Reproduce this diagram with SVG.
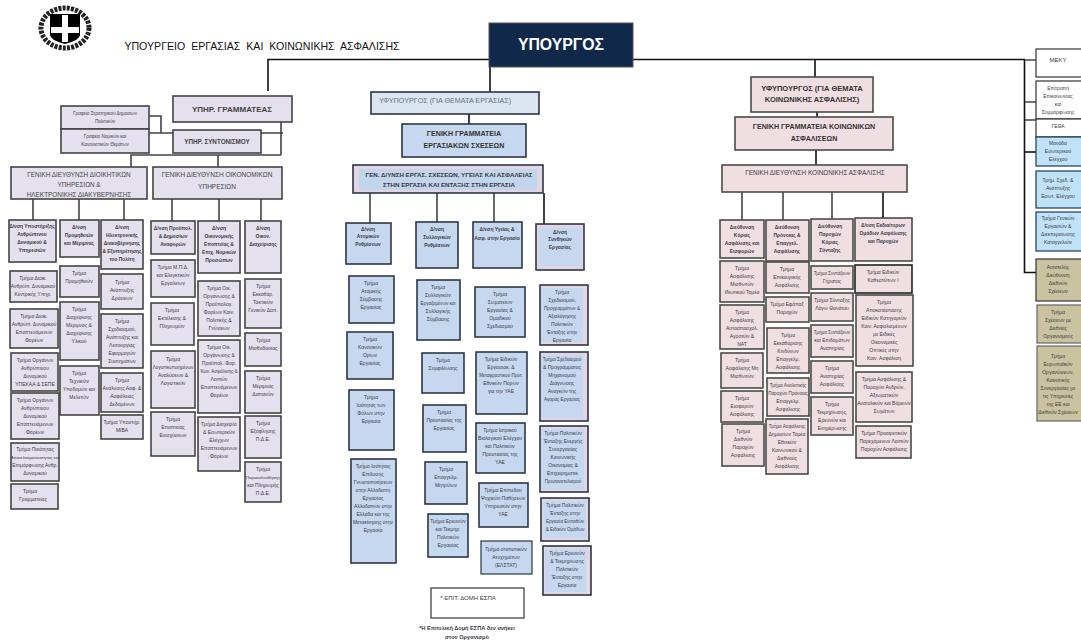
<svg xmlns="http://www.w3.org/2000/svg" width="1081" height="642" viewBox="0 0 1081 642">
<style>
text{font-family:"Liberation Sans","Noto Sans",sans-serif;text-anchor:middle;fill:#3a3a44}
.l rect{fill:#e5e0ee;stroke:#444;stroke-width:1.6}
.b rect{fill:#c5d8f0;stroke:#2c3644;stroke-width:1.6}
.p rect{fill:#f0dfe2;stroke:#4a4a4a;stroke-width:1.6}
.w rect{fill:#fff;stroke:#333;stroke-width:1.2}
.c rect{fill:#bfe2f8;stroke:#1f3850;stroke-width:1.2}
.k rect{fill:#c9c3a1;stroke:#333;stroke-width:1.2}
.s text{font-size:5px}
.d text{font-size:4.9px;font-weight:bold}
.m text{font-size:7.6px;fill:#444}
.t text{font-size:5px}
#conn path{fill:none;stroke:#444;stroke-width:1.6}
#conn path.k{stroke:#111}
</style>
<g id="logo"><ellipse cx="65" cy="28" rx="24" ry="20" fill="none" stroke="#222" stroke-width="5" stroke-dasharray="3 1.2"/><path d="M50 14H80V35Q80 40 65 44Q50 40 50 35Z" fill="#000"/><path d="M62 15H68V27H79V33H68V42H62V33H51V27H62Z" fill="#fff"/></g>
<text id="title" x="262" y="50" style="font-size:10.6px;word-spacing:3px;fill:#111">ΥΠΟΥΡΓΕΙΟ ΕΡΓΑΣΙΑΣ ΚΑΙ ΚΟΙΝΩΝΙΚΗΣ ΑΣΦΑΛΙΣΗΣ</text>
<g id="conn">
<path class="k" d="M268 91V59.5H1025M490 67V92M815 59.5V77"/>
<path class="k" d="M1024.5 60V272.5H1036"/>
<path d="M1025 60H1036M1025 102H1036M1025 120H1036"/><path class="k" d="M1025 152H1036"/>
<path d="M281 122V155M131 167V155H281M218 155V167M149 116H161V133M149 133H173M261 133H283"/>
<path d="M33 199V220M79 199V220M124 199V220M172 199V221M219 199V221M261 199V221"/>
<path class="k" d="M469 114V124"/>
<path d="M370 193V223M437 193V222M494 193V222"/><path class="k" d="M544 193V224"/>
<path class="k" d="M817 112V117M816 150V165"/>
<path d="M742 192V220M783 192V220M832 192V219"/><path class="k" d="M883 192V218"/>
</g>

<g id="minister"><rect x="489" y="23" width="144" height="44" fill="#10294a" stroke="#555"/><text x="561" y="50" style="font-size:15.8px;font-weight:bold;fill:#fff">ΥΠΟΥΡΓΟΣ</text></g>

<g class="l m">
<g id="n-yg"><rect x="173" y="96" width="119" height="26"/><text x="232" y="112" style="font-size:8px;font-weight:bold">ΥΠΗΡ. ΓΡΑΜΜΑΤΕΑΣ</text></g>
<g id="n-syn"><rect x="173" y="130" width="88" height="23"/><text x="217" y="144" style="font-size:6.3px;font-weight:bold">ΥΠΗΡ. ΣΥΝΤΟΝΙΣΜΟΥ</text></g>
<g id="n-gdl"><rect x="11" y="167" width="136" height="32"/><text x="79" y="176.5" style="font-size:6.4px">ΓΕΝΙΚΗ ΔΙΕΥΘΥΝΣΗ ΔΙΟΙΚΗΤΙΚΩΝ</text><text x="79" y="186.5" style="font-size:6.4px">ΥΠΗΡΕΣΙΩΝ  &amp;</text><text x="79" y="196.5" style="font-size:6.4px">ΗΛΕΚΤΡΟΝΙΚΗΣ ΔΙΑΚΥΒΕΡΝΗΣΗΣ</text></g>
<g id="n-gdr"><rect x="153" y="167" width="129" height="32"/><text x="217" y="176.5" style="font-size:6.5px">ΓΕΝΙΚΗ ΔΙΕΥΘΥΝΣΗ ΟΙΚΟΝΟΜΙΚΩΝ</text><text x="217" y="188.5" style="font-size:6.5px">ΥΠΗΡΕΣΙΩΝ</text></g>
</g>

<g class="l s">
<g id="n-a1"><rect x="61" y="106" width="88" height="23"/><text x="105" y="115" style="font-size:4.6px">Γραφείο Στρατηγικού Δημοσίων</text><text x="105" y="123" style="font-size:4.6px">Πολιτικών</text></g>
<g id="n-a2"><rect x="61" y="129" width="88" height="24"/><text x="105" y="138" style="font-size:4.6px">Γραφείο Νομικών και</text><text x="105" y="146" style="font-size:4.6px">Κανονιστικών Θεμάτων</text></g>
</g>

<g class="l d">
<g id="d1"><rect x="9" y="220" width="47" height="42"/><text x="32" y="228">Δ/νση Υποστήριξης</text><text x="32" y="236">Ανθρώπινου</text><text x="32" y="244">Δυναμικού &amp;</text><text x="32" y="252">Υπηρεσιών</text></g>
<g id="d2"><rect x="60" y="220" width="39" height="37"/><text x="79" y="229">Δ/νση</text><text x="79" y="237">Προμηθειών</text><text x="79" y="245">και Μέριμνας</text></g>
<g id="d3"><rect x="101" y="220" width="42" height="49"/><text x="122" y="229">Δ/νση</text><text x="122" y="237">Ηλεκτρονικής</text><text x="122" y="245">Διακυβέρνησης</text><text x="122" y="253">&amp; Εξυπηρέτησης</text><text x="122" y="261">του Πολίτη</text></g>
<g id="d4"><rect x="151" y="221" width="44" height="33"/><text x="173" y="230">Δ/νση Προϋπολ.</text><text x="173" y="238">&amp; Δημοσίων</text><text x="173" y="246">Αναφορών</text></g>
<g id="d5"><rect x="198" y="221" width="42" height="52"/><text x="219" y="230">Δ/νση</text><text x="219" y="238">Οικονομικής</text><text x="219" y="246">Εποπτείας &amp;</text><text x="219" y="254">Επιχ. Νομικών</text><text x="219" y="262">Προσώπων</text></g>
<g id="d6"><rect x="245" y="221" width="36" height="52"/><text x="263" y="230">Δ/νση</text><text x="263" y="238">Οικον.</text><text x="263" y="246">Διαχείρισης</text></g>
</g>

<g class="l t">
<g id="t1"><rect x="10" y="271" width="47" height="31"/><text x="33" y="280">Τμήμα Διοίκ.</text><text x="33" y="288">Ανθρώπ. Δυναμικού</text><text x="33" y="296">Κεντρικής Υπηρ.</text></g>
<g id="t2"><rect x="10" y="309" width="48" height="39"/><text x="34" y="318">Τμήμα Διοίκ.</text><text x="34" y="326">Ανθρώπ. Δυναμικού</text><text x="34" y="334">Εποπτευόμενων</text><text x="34" y="342">Φορέων</text></g>
<g id="t3"><rect x="11" y="353" width="47" height="38"/><text x="35" y="362">Τμήμα Οργάνων</text><text x="35" y="370">Ανθρώπινου</text><text x="35" y="378">Δυναμικού</text><text x="35" y="386">ΥΠΕΚΑΑ &amp; ΣΕΠΕ</text></g>
<g id="t4"><rect x="11" y="393" width="48" height="46"/><text x="35" y="402">Τμήμα Οργάνων</text><text x="35" y="410">Ανθρώπινου</text><text x="35" y="418">Δυναμικού</text><text x="35" y="426">Εποπτευόμενων</text><text x="35" y="434">Φορέων</text></g>
<g id="t5"><rect x="11" y="443" width="48" height="38"/><text x="35" y="451">Τμήμα Ποιότητας</text><text x="35" y="459" style="font-size:4.4px">Αποτελεσματικότητας και</text><text x="35" y="467">Επιμόρφωσης Ανθρ.</text><text x="35" y="475">Δυναμικού</text></g>
<g id="t6"><rect x="11" y="484" width="47" height="25"/><text x="30" y="493">Τμήμα</text><text x="33" y="501">Γραμματείας</text></g>
<g id="t7"><rect x="60" y="266" width="39" height="31"/><text x="79" y="275">Τμήμα</text><text x="79" y="283">Προμηθειών</text></g>
<g id="t8"><rect x="60" y="302" width="39" height="58"/><text x="79" y="311">Τμήμα</text><text x="79" y="319">Διαχείρισης</text><text x="79" y="327">Μέριμνας &amp;</text><text x="79" y="335">Διαχείρισης</text><text x="79" y="343">Υλικού</text></g>
<g id="t9"><rect x="60" y="366" width="39" height="49"/><text x="79" y="375">Τμήμα</text><text x="79" y="383">Τεχνικών</text><text x="79" y="391">Υποδομών και</text><text x="79" y="399">Μελετών</text></g>
<g id="t10"><rect x="101" y="274" width="42" height="35"/><text x="122" y="284">Τμήμα</text><text x="122" y="292">Ανάπτυξης</text><text x="122" y="300">Δράσεων</text></g>
<g id="t11"><rect x="101" y="314" width="42" height="54"/><text x="122" y="323">Τμήμα</text><text x="122" y="331">Σχεδιασμού,</text><text x="122" y="339">Ανάπτυξης και</text><text x="122" y="347">Λειτουργίας</text><text x="122" y="355">Εφαρμογών</text><text x="122" y="363">Συστημάτων</text></g>
<g id="t12"><rect x="101" y="373" width="42" height="39"/><text x="122" y="382">Τμήμα</text><text x="122" y="390">Ανάλυσης Ασφ. &amp;</text><text x="122" y="398">Ασφάλειας</text><text x="122" y="406">Δεδομένων</text></g>
<g id="t13"><rect x="101" y="415" width="42" height="24"/><text x="122" y="424">Τμήμα Υποστήρ.</text><text x="122" y="432">ΜΙΒΑ</text></g>
<g id="t14"><rect x="151" y="260" width="44" height="37"/><text x="173" y="269">Τμήμα Μ.Π.Δ.</text><text x="173" y="277">και Ελεγκτικών</text><text x="173" y="285">Εργαλείων</text></g>
<g id="t15"><rect x="151" y="303" width="43" height="42"/><text x="172" y="312">Τμήμα</text><text x="172" y="320">Εκτέλεσης &amp;</text><text x="172" y="328">Πληρωμών</text></g>
<g id="t16"><rect x="151" y="351" width="44" height="57"/><text x="173" y="361">Τμήμα</text><text x="173" y="369" style="font-size:4.5px">Λογιστικοποιημένων</text><text x="173" y="377">Αναλύσεων &amp;</text><text x="173" y="385">Λογιστικών</text></g>
<g id="t17"><rect x="151" y="412" width="44" height="44"/><text x="173" y="421">Τμήμα</text><text x="173" y="429">Εποπτείας</text><text x="173" y="437">Ενισχύσεων</text></g>
<g id="t18"><rect x="198" y="281" width="42" height="55"/><text x="219" y="290">Τμήμα Οικ.</text><text x="219" y="298">Οργάνωσης &amp;</text><text x="219" y="306">Προϋπολογ.</text><text x="219" y="314">Φορέων Κοιν.</text><text x="219" y="322">Πολιτικής &amp;</text><text x="219" y="330">Γνώσεων</text></g>
<g id="t19"><rect x="198" y="340" width="42" height="73"/><text x="219" y="349">Τμήμα Οικ.</text><text x="219" y="357">Οργάνωσης &amp;</text><text x="219" y="365">Προϋπολ. Φορ.</text><text x="219" y="373" style="font-size:4.5px">Κοιν. Ασφάλισης &amp;</text><text x="219" y="381">Λοιπών</text><text x="219" y="389">Εποπτευόμενων</text><text x="219" y="397">Φορέων</text></g>
<g id="t20"><rect x="198" y="417" width="42" height="54"/><text x="219" y="426">Τμήμα Διαχείρ/σ</text><text x="219" y="434">&amp; Εσωτερικών</text><text x="219" y="442">Ελέγχων</text><text x="219" y="450">Εποπτευόμενων</text><text x="219" y="458">Φορέων</text></g>
<g id="t21"><rect x="245" y="279" width="36" height="49"/><text x="263" y="288">Τμήμα</text><text x="263" y="296">Εκκαθάρ.</text><text x="263" y="304">Τακτικών</text><text x="263" y="312">Γενικών Δαπ.</text></g>
<g id="t22"><rect x="245" y="333" width="36" height="33"/><text x="263" y="342">Τμήμα</text><text x="263" y="350">Μισθοδοσίας</text></g>
<g id="t23"><rect x="245" y="371" width="36" height="42"/><text x="263" y="380">Τμήμα</text><text x="263" y="388">Μέριμνας</text><text x="263" y="396">Δαπανών</text></g>
<g id="t24"><rect x="245" y="416" width="36" height="42"/><text x="263" y="425">Τμήμα</text><text x="263" y="433">Εξόφλησης</text><text x="263" y="441">Π.Δ.Ε.</text></g>
<g id="t25"><rect x="245" y="462" width="36" height="40"/><text x="263" y="471">Τμήμα</text><text x="263" y="479" style="font-size:4.4px">Παρακολούθησης</text><text x="263" y="487">και Πληρωμής</text><text x="263" y="495">Π.Δ.Ε.</text></g>
</g>

<g class="b">
<g id="c-yf"><rect x="371" y="92" width="168" height="22" style="fill:#dae5f1"/><text x="445" y="103" style="font-size:7.2px;fill:#667080">ΥΦΥΠΟΥΡΓΟΣ (ΓΙΑ ΘΕΜΑΤΑ ΕΡΓΑΣΙΑΣ)</text></g>
<g id="c-gg"><rect x="402" y="124" width="124" height="33"/><text x="464" y="136" style="font-size:7.1px;font-weight:bold;fill:#333">ΓΕΝΙΚΗ ΓΡΑΜΜΑΤΕΙΑ</text><text x="464" y="148" style="font-size:7.1px;font-weight:bold;fill:#333">ΕΡΓΑΣΙΑΚΩΝ ΣΧΕΣΕΩΝ</text></g>
<g id="c-gd"><rect x="353" y="165" width="190" height="28" style="fill:#e3d5e4"/><rect x="359" y="169" width="178" height="21" style="stroke:none;fill:#c1d5ec"/><text x="449" y="177" style="font-size:6.2px;font-weight:bold">ΓΕΝ. Δ/ΥΝΣΗ ΕΡΓΑΣ. ΣΧΕΣΕΩΝ, ΥΓΕΙΑΣ ΚΑΙ ΑΣΦΑΛΕΙΑΣ</text><text x="449" y="187" style="font-size:6.2px;font-weight:bold">ΣΤΗΝ ΕΡΓΑΣΙΑ ΚΑΙ ΕΝΤΑΞΗΣ ΣΤΗΝ ΕΡΓΑΣΙΑ</text></g>
<g class="d">
<g id="cd1"><rect x="346" y="223" width="45" height="41"/><text x="368" y="231">Δ/νση</text><text x="368" y="238">Ατομικών</text><text x="368" y="246">Ρυθμίσεων</text></g>
<g id="cd2"><rect x="416" y="222" width="42" height="46"/><text x="437" y="231">Δ/νση</text><text x="437" y="239">Συλλογικών</text><text x="437" y="247">Ρυθμίσεων</text></g>
<g id="cd3"><rect x="473" y="222" width="49" height="46"/><text x="497" y="231">Δ/νση Υγείας &amp;</text><text x="497" y="240">Ασφ. στην Εργασία</text></g>
<g id="cd4"><rect x="536" y="224" width="48" height="46" style="fill:#e3d5e4"/><rect x="539" y="228" width="42" height="38" style="stroke:none"/><text x="560" y="234">Δ/νση</text><text x="560" y="241">Συνθηκών</text><text x="560" y="249">Εργασίας</text></g>
</g>
<g class="t">
<g id="ct1"><rect x="349" y="276" width="45" height="47"/><text x="371" y="285">Τμήμα</text><text x="371" y="293">Ατομικής</text><text x="371" y="301">Σύμβασης</text><text x="371" y="309">Εργασίας</text></g>
<g id="ct2"><rect x="347" y="332" width="46" height="47"/><text x="370" y="341">Τμήμα</text><text x="370" y="349">Κανονικών</text><text x="370" y="357">Ορίων</text><text x="370" y="365">Εργασίας</text></g>
<g id="ct3"><rect x="349" y="390" width="45" height="60"/><text x="371" y="399">Τμήμα</text><text x="371" y="407">Ισότητας των</text><text x="371" y="415">Φύλων στην</text><text x="371" y="423">Εργασία</text></g>
<g id="ct4"><rect x="351" y="459" width="45" height="104"/><text x="373" y="468">Τμήμα Ισότητας</text><text x="373" y="476">Επίλυσης</text><text x="373" y="484">Γνωστοποιήσεων</text><text x="373" y="492">στην Αλλοδαπή</text><text x="373" y="500">Εργασίας</text><text x="373" y="508">Αλλοδαπών στην</text><text x="373" y="516">Ελλάδα και της</text><text x="373" y="524">Μετακίνησης στην</text><text x="373" y="532">Εργασία</text></g>
<g id="ct5"><rect x="417" y="280" width="43" height="60"/><text x="438" y="289">Τμήμα</text><text x="438" y="297">Συλλογικών</text><text x="438" y="305" style="font-size:4.6px">Εργαζομένων και</text><text x="438" y="313">Συλλογικής</text><text x="438" y="321">Σύμβασης</text></g>
<g id="ct6"><rect x="422" y="353" width="42" height="40"/><text x="443" y="362">Τμήμα</text><text x="443" y="370">Συμφιλίωσης</text></g>
<g id="ct7"><rect x="423" y="405" width="43" height="47"/><text x="444" y="414">Τμήμα</text><text x="444" y="422">Προστασίας της</text><text x="444" y="430">Εργασίας</text></g>
<g id="ct8"><rect x="425" y="462" width="42" height="42"/><text x="446" y="471">Τμήμα</text><text x="446" y="479">Επαγγελμ.</text><text x="446" y="487">Μητρώων</text></g>
<g id="ct9"><rect x="428" y="514" width="40" height="43"/><text x="448" y="523">Τμήμα Ερευνών</text><text x="448" y="531">και Τεκμηρ.</text><text x="448" y="539">Πολιτικών</text><text x="448" y="547">Εργασίας</text></g>
<g id="ct10"><rect x="475" y="287" width="50" height="50"/><text x="500" y="296">Τμήμα</text><text x="500" y="304">Σωματείων</text><text x="500" y="312">Εργασίας &amp;</text><text x="500" y="320">Ομαδικού</text><text x="500" y="328">Σχεδιασμού</text></g>
<g id="ct11"><rect x="476" y="352" width="51" height="62"/><text x="501" y="361">Τμήμα Ειδικών</text><text x="501" y="369">Εργασιακ. &amp;</text><text x="501" y="377" style="font-size:4.5px">Μεταφραστικού Προτ.</text><text x="501" y="385">Εθνικών Πόρων</text><text x="501" y="393">για την ΥΑΕ</text></g>
<g id="ct12"><rect x="476" y="423" width="49" height="50"/><text x="500" y="432">Τμήμα Ιατρικού</text><text x="500" y="440">Βιολογικού Ελέγχου</text><text x="500" y="448">και Πολιτικών</text><text x="500" y="456">Προστασίας της</text><text x="500" y="464">ΥΑΕ</text></g>
<g id="ct13"><rect x="479" y="483" width="49" height="44"/><text x="503" y="492">Τμήμα Επίπεδου</text><text x="503" y="500">Ψυχικών Παθήσεων</text><text x="503" y="508">Υπηρεσιών στην</text><text x="503" y="516">ΥΑΕ</text></g>
<g id="ct14"><rect x="481" y="541" width="51" height="33" style="stroke-width:1.2"/><text x="506" y="551">Τμήμα στατιστικών</text><text x="506" y="559">Ατυχημάτων</text><text x="506" y="567">(ΕΛΣΤΑΤ)</text></g>
<g id="ct15"><rect x="540" y="285" width="48" height="60" style="fill:#e3d5e4"/><rect x="541" y="288" width="42" height="54" style="stroke:none"/><text x="562" y="294">Τμήμα</text><text x="562" y="302">Σχεδιασμού,</text><text x="562" y="310" style="font-size:4.6px">Προγραμμάτων &amp;</text><text x="562" y="318">Αξιολόγησης</text><text x="562" y="326">Πολιτικών</text><text x="562" y="334">Ένταξης στην</text><text x="562" y="342">Εργασία</text></g>
<g id="ct16"><rect x="540" y="352" width="48" height="69" style="fill:#e3d5e4"/><rect x="541" y="355" width="42" height="63" style="stroke:none"/><text x="562" y="361" style="font-size:4.6px">Τμήμα Σχεδιασμού</text><text x="562" y="369">&amp; Προγράμματος</text><text x="562" y="377">Μηχανισμού</text><text x="562" y="385">Διάγνωσης</text><text x="562" y="393">Αναγκών της</text><text x="562" y="401" style="font-size:4.6px">Αγοράς Εργασίας</text></g>
<g id="ct17"><rect x="540" y="426" width="48" height="66" style="fill:#e3d5e4"/><rect x="541" y="429" width="43" height="60" style="stroke:none"/><text x="563" y="435">Τμήμα Πολιτικών</text><text x="563" y="443">Ένταξης Ενεργής</text><text x="563" y="451">Συνεργασίας</text><text x="563" y="459">Κοινωνικής</text><text x="563" y="467">Οικονομίας &amp;</text><text x="563" y="475">Επιχειρηματικ.</text><text x="563" y="483" style="font-size:4.5px">Προσανατολισμού</text></g>
<g id="ct18"><rect x="541" y="498" width="48" height="43" style="fill:#e3d5e4"/><rect x="543" y="501" width="43" height="37" style="stroke:none"/><text x="565" y="507">Τμήμα Πολιτικών</text><text x="565" y="515">Ένταξης στην</text><text x="565" y="523" style="font-size:4.6px">Εργασία Ευπαθών</text><text x="565" y="531" style="font-size:4.6px">&amp; Ειδικών Ομάδων</text></g>
<g id="ct19"><rect x="543" y="546" width="48" height="49" style="fill:#e3d5e4"/><rect x="545" y="549" width="41" height="43" style="stroke:none"/><text x="567" y="555">Τμήμα Ερευνών</text><text x="567" y="563">&amp; Τεκμηρίωσης</text><text x="567" y="571">Πολιτικών</text><text x="567" y="579">Ένταξης στην</text><text x="567" y="587">Εργασία</text></g>
</g>
</g>

<g class="w">
<g id="espa"><rect x="431" y="588" width="93" height="30"/><text x="468" y="600" style="font-size:6px">* ΕΠΙΤ. ΔΟΜΗ ΕΣΠΑ</text></g>
</g>
<g id="note"><text x="467" y="630" style="font-size:5.6px;font-weight:bold">*Η Επιτελική Δομή ΕΣΠΑ δεν ανήκει</text><text x="467" y="639" style="font-size:5.6px;font-weight:bold">στον Οργανισμό</text></g>

<g class="p">
<g id="r-yf"><rect x="751" y="77" width="122" height="35"/><text x="812" y="91" style="font-size:7.5px;font-weight:bold;fill:#333">ΥΦΥΠΟΥΡΓΟΣ (ΓΙΑ ΘΕΜΑΤΑ</text><text x="812" y="102" style="font-size:7.5px;font-weight:bold;fill:#333">ΚΟΙΝΩΝΙΚΗΣ ΑΣΦΑΛΙΣΗΣ)</text></g>
<g id="r-gg"><rect x="735" y="117" width="158" height="33"/><text x="814" y="129" style="font-size:7.1px;font-weight:bold;fill:#333">ΓΕΝΙΚΗ ΓΡΑΜΜΑΤΕΙΑ ΚΟΙΝΩΝΙΚΩΝ</text><text x="814" y="141" style="font-size:7.1px;font-weight:bold;fill:#333">ΑΣΦΑΛΙΣΕΩΝ</text></g>
<g id="r-gd"><rect x="722" y="165" width="185" height="27"/><text x="815" y="175" style="font-size:6.4px">ΓΕΝΙΚΗ ΔΙΕΥΘΥΝΣΗ ΚΟΙΝΩΝΙΚΗΣ ΑΣΦΑΛΙΣΗΣ</text></g>
<g class="d">
<g id="rd1"><rect x="720" y="220" width="44" height="38"/><text x="742" y="229">Διεύθυνση</text><text x="742" y="237">Κύριας</text><text x="742" y="245">Ασφάλισης και</text><text x="742" y="253">Εισφορών</text></g>
<g id="rd2"><rect x="766" y="220" width="43" height="41"/><text x="787" y="229">Διεύθυνση</text><text x="787" y="237">Πρόνοιας &amp;</text><text x="787" y="245">Επαγγελ.</text><text x="787" y="253">Ασφάλισης</text></g>
<g id="rd3"><rect x="811" y="219" width="42" height="42"/><text x="830" y="228">Διεύθυνση</text><text x="830" y="236">Παροχών</text><text x="830" y="244">Κύριας</text><text x="830" y="252">Σύνταξης</text></g>
<g id="rd4"><rect x="855" y="218" width="57" height="43"/><text x="883" y="227">Δ/νση Εκδιαίτερων</text><text x="883" y="235">Ομάδων Ασφάλισης</text><text x="883" y="243">και Παροχών</text></g>
</g>
<g class="t">
<g id="rt1"><rect x="720" y="261" width="44" height="41"/><text x="742" y="270">Τμήμα</text><text x="742" y="278">Ασφάλισης</text><text x="742" y="286">Μισθωτών</text><text x="742" y="294">Ιδιωτικού Τομέα</text></g>
<g id="rt2"><rect x="720" y="305" width="44" height="44"/><text x="742" y="314">Τμήμα</text><text x="742" y="322">Ασφάλισης</text><text x="742" y="330">Αυτοαπασχολ.</text><text x="742" y="338">Αγροτών &amp;</text><text x="742" y="346">ΝΑΤ</text></g>
<g id="rt3"><rect x="721" y="353" width="42" height="35"/><text x="742" y="362">Τμήμα</text><text x="742" y="370">Ασφάλισης Μη</text><text x="742" y="378">Μισθωτών</text></g>
<g id="rt4"><rect x="721" y="391" width="42" height="31"/><text x="742" y="400">Τμήμα</text><text x="742" y="408">Εισφορών</text><text x="742" y="416">Ασφάλισης</text></g>
<g id="rt5"><rect x="722" y="424" width="42" height="42"/><text x="743" y="433">Τμήμα</text><text x="743" y="441">Διεθνών</text><text x="743" y="449">Παροχών</text><text x="743" y="457">Ασφάλισης</text></g>
<g id="rt6"><rect x="766" y="262" width="43" height="31"/><text x="787" y="271">Τμήμα</text><text x="787" y="279">Επικουρικής</text><text x="787" y="287">Ασφάλισης</text></g>
<g id="rt7"><rect x="766" y="297" width="43" height="25"/><text x="787" y="306">Τμήμα Εφάπαξ</text><text x="787" y="314">Παροχών</text></g>
<g id="rt8"><rect x="767" y="328" width="42" height="45"/><text x="788" y="337">Τμήμα</text><text x="788" y="345">Εκκαθάρισης</text><text x="788" y="353">Κινδύνων</text><text x="788" y="361">Επαγγελμ.</text><text x="788" y="369">Ασφάλισης</text></g>
<g id="rt9"><rect x="767" y="378" width="42" height="38"/><text x="788" y="387" style="font-size:4.6px">Τμήμα Αναλυτικής</text><text x="788" y="395" style="font-size:4.6px">Παροχών Πρόνοιας</text><text x="788" y="403">Επαγγελμ.</text><text x="788" y="411">Ασφάλισης</text></g>
<g id="rt10"><rect x="766" y="419" width="42" height="55"/><text x="787" y="428" style="font-size:4.6px">Τμήμα Ασφάλισης</text><text x="787" y="436">Δημοσίων Τομέα</text><text x="787" y="444">Εθνικών</text><text x="787" y="452">Κοινωνικού &amp;</text><text x="787" y="460">Διεθνούς</text><text x="787" y="468">Ασφάλισης</text></g>
<g id="rt11"><rect x="811" y="266" width="42" height="23"/><text x="832" y="275" style="font-size:4.6px">Τμήμα Συντάξεων</text><text x="832" y="283">Γήρατος</text></g>
<g id="rt12"><rect x="811" y="293" width="42" height="28"/><text x="832" y="302">Τμήμα Σύνταξης</text><text x="832" y="310">Λόγω Θανάτου</text></g>
<g id="rt13"><rect x="811" y="325" width="42" height="32"/><text x="832" y="334" style="font-size:4.6px">Τμήμα Συντάξεων</text><text x="832" y="342">και Επιδομάτων</text><text x="832" y="350">Αναπηρίας</text></g>
<g id="rt14"><rect x="811" y="361" width="42" height="32"/><text x="832" y="370">Τμήμα</text><text x="832" y="378">Αναπηρίας</text><text x="832" y="386">Ασφάλισης</text></g>
<g id="rt15"><rect x="811" y="397" width="42" height="38"/><text x="832" y="406">Τμήμα</text><text x="832" y="414">Τεκμηρίωσης,</text><text x="832" y="422">Ερευνών και</text><text x="832" y="430">Ενημέρωσης</text></g>
<g id="rt16"><rect x="855" y="265" width="57" height="28" style="stroke:#222"/><text x="883" y="274">Τμήμα Ειδικών</text><text x="883" y="282">Καθεστώτων Ι</text></g>
<g id="rt17"><rect x="856" y="295" width="57" height="71"/><text x="884" y="304">Τμήμα</text><text x="884" y="312">Αποκατάστασης</text><text x="884" y="320">Ειδικών Κατηγοριών</text><text x="884" y="328">Κοιν. Ασφαλισμένων</text><text x="884" y="336">με Ειδικές</text><text x="884" y="344">Οικονομικές</text><text x="884" y="352">Οπτικές στην</text><text x="884" y="360">Κοιν. Ασφάλιση</text></g>
<g id="rt18"><rect x="856" y="372" width="56" height="50"/><text x="884" y="381">Τμήμα Ασφάλισης &amp;</text><text x="884" y="389">Παροχών Ανδρών,</text><text x="884" y="397">Αξιωματικών</text><text x="884" y="405">Ανατολικών και Βόρειων</text><text x="884" y="413">Σωμάτων</text></g>
<g id="rt19"><rect x="856" y="426" width="55" height="32"/><text x="884" y="435">Τμήμα Προαιρετικών</text><text x="884" y="443">Παρεχόμενων Λοιπών</text><text x="884" y="451">Παροχών Ασφάλισης</text></g>
</g>
</g>

<g class="w s">
<g id="x1"><rect x="1036" y="49" width="46" height="28"/><text x="1058" y="62" style="font-size:6px">ΜΕΚΥ</text></g>
<g id="x2"><rect x="1036" y="81" width="46" height="38"/><text x="1058" y="90">Επιτροπή</text><text x="1058" y="98">Επικοινωνίας</text><text x="1058" y="106">και</text><text x="1058" y="114">Συμμόρφωσης</text></g>
<g id="x3"><rect x="1036" y="119" width="46" height="18"/><text x="1058" y="128">ΓΕΘΑ</text></g>
</g>
<g class="c s">
<g id="x4"><rect x="1036" y="137" width="46" height="29"/><text x="1058" y="145">Μονάδα</text><text x="1058" y="153">Εσωτερικού</text><text x="1058" y="161">Ελέγχου</text></g>
<g id="x5"><rect x="1036" y="171" width="46" height="37"/><text x="1058" y="182">Τμήμ. Σχεδ. &amp;</text><text x="1058" y="190">Ανάπτυξης</text><text x="1058" y="198">Εσωτ. Ελέγχου</text></g>
<g id="x6"><rect x="1036" y="212" width="46" height="39"/><text x="1058" y="220">Τμήμα Γενικών</text><text x="1058" y="228">Εργασιών &amp;</text><text x="1058" y="236">Διεκπεραίωσης</text><text x="1058" y="244">Καταγγελιών</text></g>
</g>
<g class="k s">
<g id="x7"><rect x="1036" y="259" width="46" height="42"/><text x="1058" y="269">Αυτοτελής</text><text x="1058" y="277">Διεύθυνση</text><text x="1058" y="285">Διεθνών</text><text x="1058" y="293">Σχέσεων</text></g>
<g id="x8"><rect x="1037" y="305" width="45" height="38" style="stroke:#666"/><text x="1058" y="314">Τμήμα</text><text x="1058" y="322">Σχέσεων με</text><text x="1058" y="330">Διεθνείς</text><text x="1058" y="338">Οργανισμούς</text></g>
<g id="x9"><rect x="1037" y="346" width="45" height="75" style="stroke:#666"/><text x="1058" y="358">Τμήμα</text><text x="1058" y="366">Ευρωπαϊκών</text><text x="1058" y="374">Οργανώσεων,</text><text x="1058" y="382">Κοινοτικής</text><text x="1058" y="390">Συνεργασίας με</text><text x="1058" y="398">τις Υπηρεσίες</text><text x="1058" y="406">της ΕΕ και</text><text x="1058" y="414">Διεθνών Σχέσεων</text></g>
</g>
</svg>
